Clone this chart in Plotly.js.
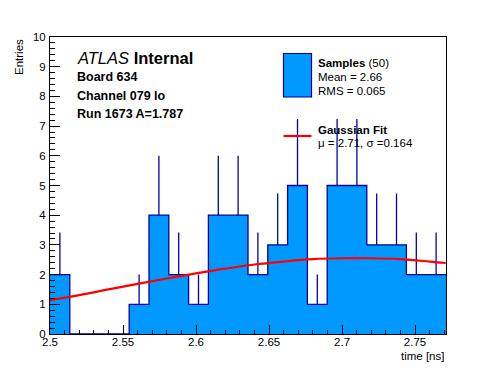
<!DOCTYPE html>
<html>
<head>
<meta charset="utf-8">
<script src="https://cdn.plot.ly/plotly-3.0.1.min.js"></script>
<style>html,body{margin:0;padding:0;background:#fff;}#chart{width:496px;height:372px;}</style>
</head>
<body>
<div id="chart"></div>
<script>
// ---- data ----
const binStart = 2.5;
const binWidth = 0.01356;
const counts = [2, 0, 0, 0, 1, 4, 2, 1, 4, 4, 2, 3, 5, 1, 5, 5, 3, 3, 2, 2];
const fitX = [2.50, 2.52, 2.54, 2.56, 2.58, 2.60, 2.62, 2.64, 2.66, 2.68, 2.70, 2.72, 2.74, 2.76, 2.771];
const fitY = [1.14, 1.31, 1.50, 1.69, 1.87, 2.04, 2.20, 2.34, 2.44, 2.52, 2.55, 2.55, 2.52, 2.44, 2.39];
const xTicks = [2.5, 2.55, 2.6, 2.65, 2.7, 2.75];
const xTickText = ["2.5", "2.55", "2.6", "2.65", "2.7", "2.75"];
const yTicks = [0, 1, 2, 3, 4, 5, 6, 7, 8, 9, 10];
const headerLines = ["<i>ATLAS</i> <b>Internal</b>", "<b>Board 634</b>", "<b>Channel 079 lo</b>", "<b>Run 1673 A=1.787</b>"];
const sampleLegend = ["<b>Samples</b> (50)", "Mean = 2.66", "RMS = 0.065"];
const fitLegend = ["<b>Gaussian Fit</b>", "\u03bc = 2.71, \u03c3 =0.164"];
const xLabel = "time [ns]";
const yLabel = "Entries";

// ---- derived ----
const edges = counts.map((c, i) => binStart + i * binWidth).concat([binStart + counts.length * binWidth]);
const stepY = counts.concat([counts[counts.length - 1]]);
const centers = counts.map((c, i) => binStart + (i + 0.5) * binWidth);
const errUp = counts.map(c => Math.sqrt(c));
const errDn = counts.map(c => 0);

const FONT = "Liberation Sans, Arial, Helvetica, sans-serif";
const L = 50, R = 50, T = 37, B = 38, W = 496, H = 372;
const pw = W - L - R, ph = H - T - B;
const px = x => (x - L) / pw;
const py = y => (H - B - y) / ph;

const traces = [
  { x: edges, y: stepY, type: 'scatter', mode: 'lines', line: { shape: 'hv', color: '#000099', width: 1.3 },
    fill: 'tozeroy', fillcolor: '#0099ff', hoverinfo: 'skip' },
  { x: centers, y: counts, type: 'scatter', mode: 'markers', marker: { size: 1, color: 'rgba(0,0,0,0)' },
    error_y: { type: 'data', symmetric: false, array: errUp, arrayminus: errDn, width: 0, thickness: 1.3, color: '#0000b0' },
    hoverinfo: 'skip' },
  { x: fitX, y: fitY, type: 'scatter', mode: 'lines', line: { color: '#ff0000', width: 2.2, shape: 'spline' }, hoverinfo: 'skip' }
];

const ann = [];
const hdrY = [58.5, 77, 95.5, 114];
headerLines.forEach((t, i) => ann.push({ xref: 'paper', yref: 'paper', x: px(75), y: py(hdrY[i]), xanchor: 'left', yanchor: 'middle',
  text: t, showarrow: false, font: { family: FONT, size: i === 0 ? 16.5 : 12.5, color: '#000' } }));
const sY = [62.5, 76.5, 91];
sampleLegend.forEach((t, i) => ann.push({ xref: 'paper', yref: 'paper', x: px(316), y: py(sY[i]), xanchor: 'left', yanchor: 'middle',
  text: t, showarrow: false, font: { family: FONT, size: 11.5, color: '#000' } }));
const fY = [129.5, 142.5];
fitLegend.forEach((t, i) => ann.push({ xref: 'paper', yref: 'paper', x: px(316), y: py(fY[i]), xanchor: 'left', yanchor: 'middle',
  text: t, showarrow: false, font: { family: FONT, size: 11.5, color: '#000' } }));
ann.push({ xref: 'paper', yref: 'paper', x: 1, y: py(356), xanchor: 'right', yanchor: 'middle', text: xLabel, showarrow: false,
  font: { family: FONT, size: 11.5, color: '#000' } });
ann.push({ xref: 'paper', yref: 'paper', x: px(19), y: 1, xanchor: 'center', yanchor: 'top', textangle: -90, text: yLabel, showarrow: false,
  font: { family: FONT, size: 11.5, color: '#000' } });

const shapes = [
  { type: 'rect', xref: 'paper', yref: 'paper', x0: px(283.5), x1: px(311.5), y0: py(97), y1: py(53.5),
    fillcolor: '#0099ff', line: { color: '#000099', width: 1.2 } },
  { type: 'line', xref: 'paper', yref: 'paper', x0: px(283.5), x1: px(311.5), y0: py(136), y1: py(136),
    line: { color: '#ff0000', width: 2.2 } }
];

const layout = {
  width: W, height: H, margin: { l: L, r: R, t: T, b: B, pad: 0 },
  paper_bgcolor: '#fff', plot_bgcolor: '#fff', showlegend: false, hovermode: false,
  font: { family: FONT, size: 11.5, color: '#000' },
  xaxis: { range: [binStart, binStart + counts.length * binWidth], tickvals: xTicks, ticktext: xTickText,
    ticks: 'inside', ticklen: 9, tickwidth: 1, tickcolor: '#000', showgrid: false, zeroline: false,
    showline: true, linecolor: '#000', linewidth: 1, mirror: true, ticklabelstandoff: -3,
    minor: { dtick: 0.01, tick0: 2.5, ticks: 'inside', ticklen: 4.5, tickcolor: '#000', tickwidth: 1, showgrid: false },
    tickfont: { family: FONT, size: 11.5, color: '#000' } },
  yaxis: { range: [0, 10], tickvals: yTicks, ticks: 'inside', ticklen: 10, tickwidth: 1, tickcolor: '#000',
    showgrid: false, zeroline: false, showline: true, linecolor: '#000', linewidth: 1, mirror: true, ticklabelstandoff: 1,
    minor: { dtick: 0.2, tick0: 0, ticks: 'inside', ticklen: 5, tickcolor: '#000', tickwidth: 1, showgrid: false },
    tickfont: { family: FONT, size: 11.5, color: '#000' } },
  annotations: ann, shapes: shapes
};

Plotly.newPlot('chart', traces, layout, { staticPlot: true, displayModeBar: false });
</script>
</body>
</html>
